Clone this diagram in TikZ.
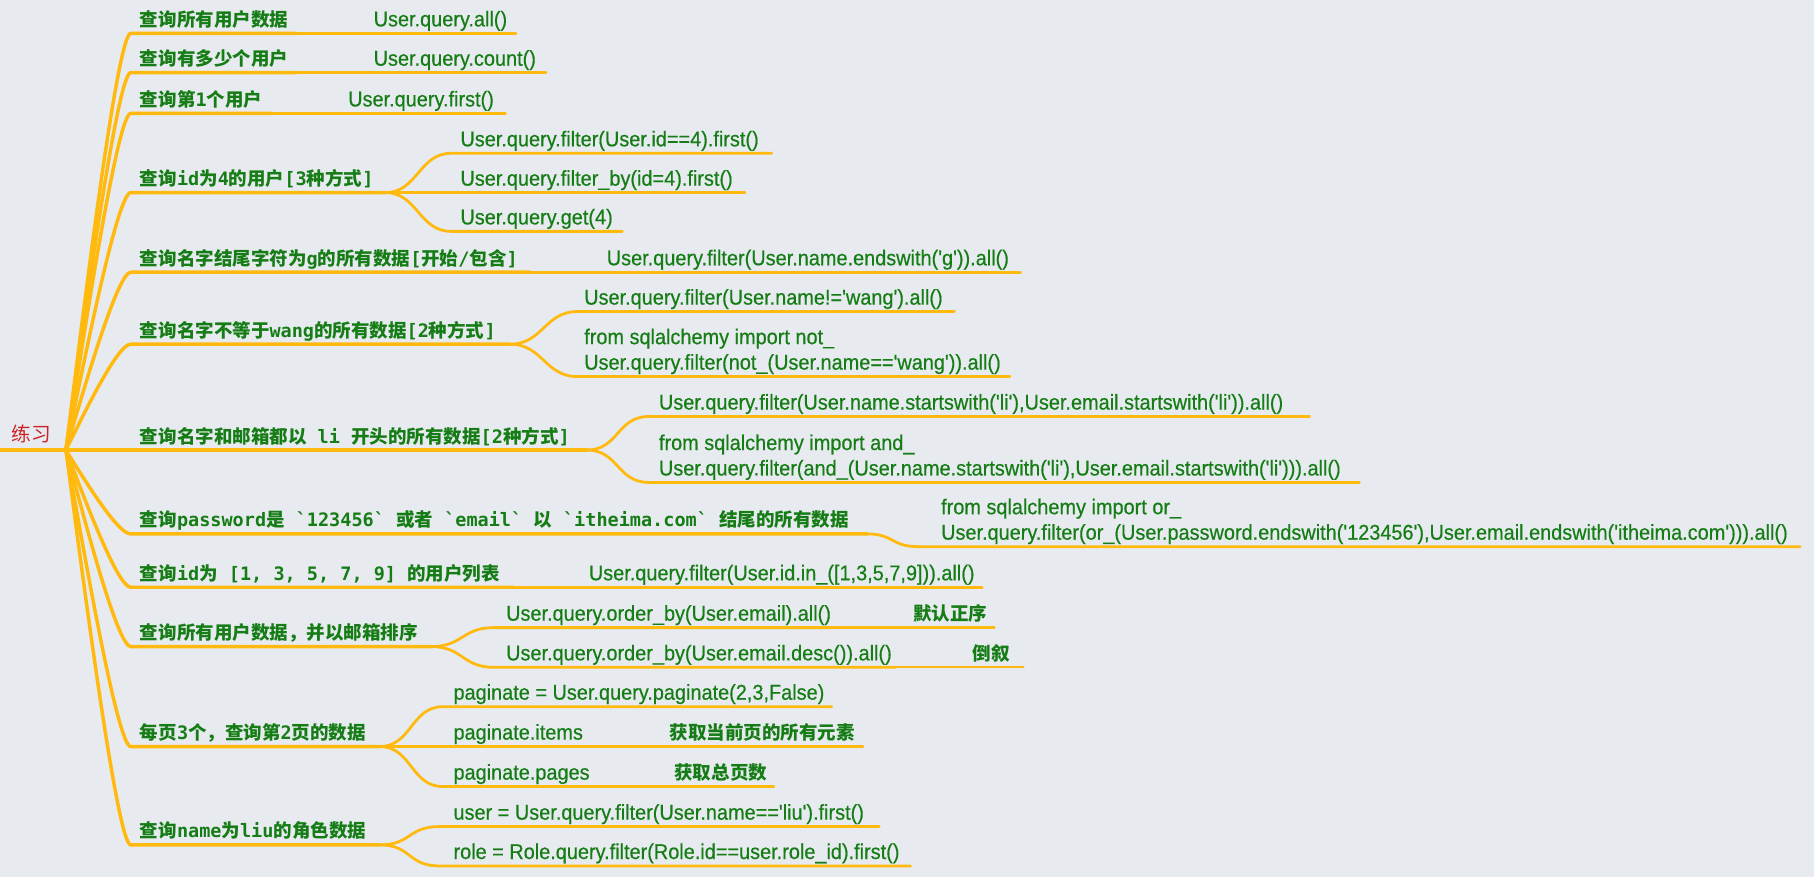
\documentclass[tikz,border=0pt]{standalone}
\usepackage{fontspec}
\usetikzlibrary{calc}
\newfontfamily\cjk[Ligatures=TeXOff]{Noto Sans CJK SC}
\newfontfamily\monof[Ligatures=TeXOff]{DejaVu Sans Mono}
\newfontfamily\codef[Ligatures=TeXOff,FakeStretch=0.93,FakeBold=0.5]{Liberation Sans}
\definecolor{bgc}{RGB}{231,235,239}
\definecolor{lnc}{RGB}{255,185,15}
\definecolor{tgc}{RGB}{22,125,22}
\definecolor{rtc}{RGB}{205,35,40}
\newcommand\mm[1]{{\monof\bfseries #1}}
\tikzset{
  lab/.style={font=\cjk\bfseries\fontsize{16}{18}\selectfont, text=tgc, inner sep=0pt, outer sep=0pt, anchor=base west},
  code/.style={font=\codef\fontsize{18.5}{20}\selectfont, text=tgc, inner sep=0pt, outer sep=0pt, anchor=base west},
  note/.style={font=\cjk\bfseries\fontsize{16}{18}\selectfont, text=tgc, inner sep=0pt, outer sep=0pt, anchor=base west},
  bline/.style={draw=lnc, line width=3pt, line cap=round},
  cline/.style={draw=lnc, line width=2.4pt, line cap=round},
  gline/.style={draw=lnc, line width=2pt, line cap=round},
}
\newcommand\branch[4]{%
  \coordinate (#1c) at (102,#2);
  \coordinate (#1s) at (113,#2);
  \coordinate (#1e) at (#3,#2);
  \draw[bline] (hub) .. controls ($(hub)!0.4!(#1c)$) and (#1c) .. (#1s) -- (#1e);
  \node[lab] (#1) at (121,#2-6) {#4};
}
\newcommand\child[5]{%
  \coordinate (#2s) at (#4,#3);
  \coordinate (#2e) at (#5,#3);
  \draw[cline] (#1) .. controls ($(#1)+(28,0)$) and ($(#2s)-(28,0)$) .. (#2s) -- (#2e);
}
\begin{document}
\begin{tikzpicture}[x=1pt,y=-1pt]
\useasboundingbox (0,0) rectangle (1568,758);
\fill[bgc] (0,0) rectangle (1568,758);

\coordinate (hub) at (57,389);
\coordinate (rs) at (0,389);
\draw[draw=lnc, line width=3.6pt] (rs) -- (hub);
\node[font=\cjk\fontsize{17}{19}\selectfont, text=rtc, inner sep=0pt, anchor=base west] (root) at (10,382) {练习};

% 1
\branch{b1}{28.8}{256}{查询所有用户数据}
\coordinate (c1e) at (446,28.8);
\draw[cline] (b1e) -- (c1e);
\node[code] (c1) at (323,28.8-6) {User.query.all()};
% 2
\branch{b2}{62.8}{256}{查询有多少个用户}
\coordinate (c2e) at (472,62.8);
\draw[cline] (b2e) -- (c2e);
\node[code] (c2) at (323,62.8-6) {User.query.count()};
% 3
\branch{b3}{98}{235}{查询第\mm{1}个用户}
\coordinate (c3e) at (437,98);
\draw[cline] (b3e) -- (c3e);
\node[code] (c3) at (301,98-6) {User.query.first()};
% 4
\branch{b4}{166.5}{333}{查询\mm{id}为\mm{4}的用户\mm{[3}种方式\mm{]}}
\child{b4e}{c41}{132.5}{390}{667}
\child{b4e}{c42}{166.5}{390}{644}
\child{b4e}{c43}{200}{390}{538}
\node[code] (c41) at (398,132.5-6) {User.query.filter(User.id==4).first()};
\node[code] (c42) at (398,166.5-6) {User.query.filter\_by(id=4).first()};
\node[code] (c43) at (398,200-6) {User.query.get(4)};
% 5
\branch{b5}{235.3}{458}{查询名字结尾字符为\mm{g}的所有数据\mm{[}开始\mm{/}包含\mm{]}}
\coordinate (c5e) at (882,235.3);
\draw[cline] (b5e) -- (c5e);
\node[code] (c5) at (524.5,235.3-6) {User.query.filter(User.name.endswith('g')).all()};
% 6
\branch{b6}{297.5}{441}{查询名字不等于\mm{wang}的所有数据\mm{[2}种方式\mm{]}}
\child{b6e}{c61}{269.3}{499}{825}
\child{b6e}{c62}{325.5}{499}{873}
\node[code] (c61) at (505,269.3-6) {User.query.filter(User.name!='wang').all()};
\node[code] (c62a) at (505,325.5-28) {from sqlalchemy import not\_};
\node[code] (c62b) at (505,325.5-6) {User.query.filter(not\_(User.name=='wang')).all()};
% 7
\branch{b7}{389}{507}{查询名字和邮箱都以\mm{~li~}开头的所有数据\mm{[2}种方式\mm{]}}
\child{b7e}{c71}{360}{561}{1132}
\child{b7e}{c72}{417}{561}{1175}
\node[code] (c71) at (569.6,360-6) {User.query.filter(User.name.startswith('li'),User.email.startswith('li')).all()};
\node[code] (c72a) at (569.6,417-28) {from sqlalchemy import and\_};
\node[code] (c72b) at (569.6,417-6) {User.query.filter(and\_(User.name.startswith('li'),User.email.startswith('li'))).all()};
% 8
\branch{b8}{461.5}{750}{查询\mm{password}是\mm{~`123456`~}或者\mm{~`email`~}以\mm{~`itheima.com`~}结尾的所有数据}
\coordinate (c81s) at (793,472.5);
\coordinate (c81e) at (1556,472.5);
\draw[cline] (b8e) .. controls ($(b8e)+(22,0)$) and ($(c81s)-(22,0)$) .. (c81s) -- (c81e);
\node[code] (c81a) at (813.5,472.5-28) {from sqlalchemy import or\_};
\node[code] (c81b) at (813.5,472.5-6) {User.query.filter(or\_(User.password.endswith('123456'),User.email.endswith('itheima.com'))).all()};
% 9
\branch{b9}{507.6}{444}{查询\mm{id}为\mm{~[1,~3,~5,~7,~9]~}的用户列表}
\coordinate (c9e) at (849,507.6);
\draw[cline] (b9e) -- (c9e);
\node[code] (c9) at (509,507.6-6) {User.query.filter(User.id.in\_([1,3,5,7,9])).all()};
% 10
\branch{b10}{558.9}{372.5}{查询所有用户数据，并以邮箱排序}
\child{b10e}{c101}{542.5}{427}{722}
\child{b10e}{c102}{576.8}{427}{774}
\node[code] (c101) at (437.5,542.5-6) {User.query.order\_by(User.email).all()};
\node[code] (c102) at (437.5,576.8-6) {User.query.order\_by(User.email.desc()).all()};
\coordinate (g101e) at (859.6,542.5);
\coordinate (g102e) at (884.7,576.8);
\draw[gline] (c101e) -- (g101e);
\draw[gline] (c102e) -- (g102e);
\node[note] (g101) at (789.4,542.5-6) {默认正序};
\node[note] (g102) at (841,576.8-6) {倒叙};
% 11
\branch{b11}{645.3}{328}{每页\mm{3}个，查询第\mm{2}页的数据}
\child{b11e}{c111}{610.8}{383}{719}
\child{b11e}{c112}{645.3}{383}{512}
\child{b11e}{c113}{679.9}{383}{516}
\node[code] (c111) at (392,610.8-6) {paginate = User.query.paginate(2,3,False)};
\node[code] (c112) at (392,645.3-6) {paginate.items};
\node[code] (c113) at (392,679.9-6) {paginate.pages};
\coordinate (g112e) at (746,645.3);
\coordinate (g113e) at (669,679.9);
\draw[gline] (c112e) -- (g112e);
\draw[gline] (c113e) -- (g113e);
\node[note] (g112) at (579,645.3-6) {获取当前页的所有元素};
\node[note] (g113) at (583,679.9-6) {获取总页数};
% 12
\branch{b12}{730.3}{328}{查询\mm{name}为\mm{liu}的角色数据}
\child{b12e}{c121}{714.5}{380}{760}
\child{b12e}{c122}{748.5}{380}{787}
\node[code] (c121) at (392,714.5-6) {user = User.query.filter(User.name=='liu').first()};
\node[code] (c122) at (392,748.5-6) {role = Role.query.filter(Role.id==user.role\_id).first()};
\end{tikzpicture}
\end{document}
